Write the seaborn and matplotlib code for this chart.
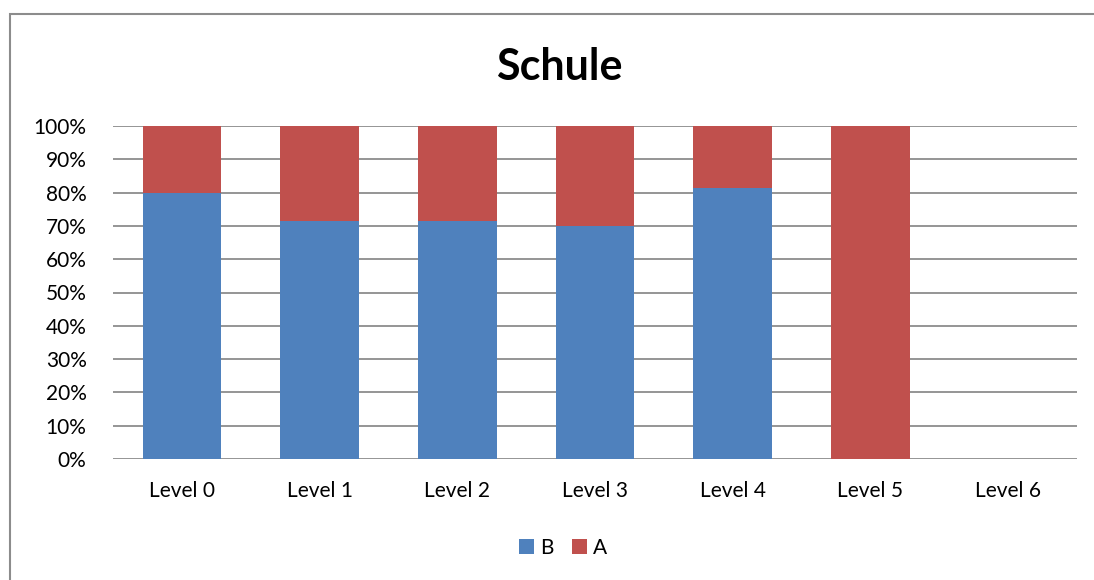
import matplotlib
matplotlib.use("Agg")
import matplotlib.pyplot as plt
from matplotlib.patches import Rectangle, Patch
from matplotlib.ticker import PercentFormatter, MultipleLocator
import seaborn as sns
import pandas as pd

# Share of each group per level, in percent
levels = ["Level 0", "Level 1", "Level 2", "Level 3", "Level 4", "Level 5", "Level 6"]
share_b = [80.0, 71.43, 71.43, 70.0, 81.3, 0.0, 0.0]
share_a = [20.0, 28.57, 28.57, 30.0, 18.7, 100.0, 0.0]
series_names = ["B", "A"]
colors = {"B": "#4F81BD", "A": "#C0504D"}
title = "Schule"

sns.set_theme(style="white")
plt.rcParams["font.family"] = ["Lato", "DejaVu Sans"]
plt.rcParams["text.color"] = "black"

df = pd.DataFrame({"level": levels, "B": share_b, "A": share_a})
df["top"] = df["B"] + df["A"]

fig = plt.figure(figsize=(10.94, 5.8), dpi=100)
ax = fig.add_axes([113 / 1094, 1 - 459 / 580, 964 / 1094, 333 / 580])

# Stacked 100% bars: full stack in A's colour, B drawn over the lower part
sns.barplot(data=df, x="level", y="top", color=colors["A"], width=0.571,
            saturation=1, linewidth=0, ax=ax, zorder=3)
sns.barplot(data=df, x="level", y="B", color=colors["B"], width=0.571,
            saturation=1, linewidth=0, ax=ax, zorder=4)

ax.set_ylim(0, 100)
ax.set_xlim(-0.5, len(levels) - 0.5)
ax.yaxis.set_major_locator(MultipleLocator(10))
ax.yaxis.set_major_formatter(PercentFormatter(decimals=0))
ax.grid(axis="y", color="#8C8C8C", linewidth=1.3, zorder=0)
ax.set_axisbelow(True)
for side in ["left", "right", "top", "bottom"]:
    ax.spines[side].set_visible(False)
ax.set_xlabel("")
ax.set_ylabel("")
ax.tick_params(axis="both", length=0, labelsize=15, colors="black")
ax.tick_params(axis="y", pad=19)
ax.tick_params(axis="x", pad=16)
for lab in ax.get_yticklabels():
    lab.set_horizontalalignment("right")

fig.text(559 / 1094, 1 - 67 / 580, title, ha="center", va="center",
         fontsize=31, fontweight="bold", color="black")

handles = [Patch(facecolor=colors[n], edgecolor="none", label=n) for n in series_names]
fig.legend(handles=handles, loc="center", bbox_to_anchor=(563 / 1094, 1 - 548 / 580),
           ncol=2, frameon=False, fontsize=15, handlelength=0.7, handleheight=0.7,
           handletextpad=0.3, columnspacing=0.9, labelcolor="black")

# Chart-area border running off the right and bottom edges
fig.patches.append(Rectangle((9.5 / 1094, -0.05), 1.2, 1 - 13.5 / 580 + 0.05,
                             transform=fig.transFigure, fill=False,
                             edgecolor="#8C8C8C", linewidth=1.5))

fig.savefig("out.png", dpi=100)
